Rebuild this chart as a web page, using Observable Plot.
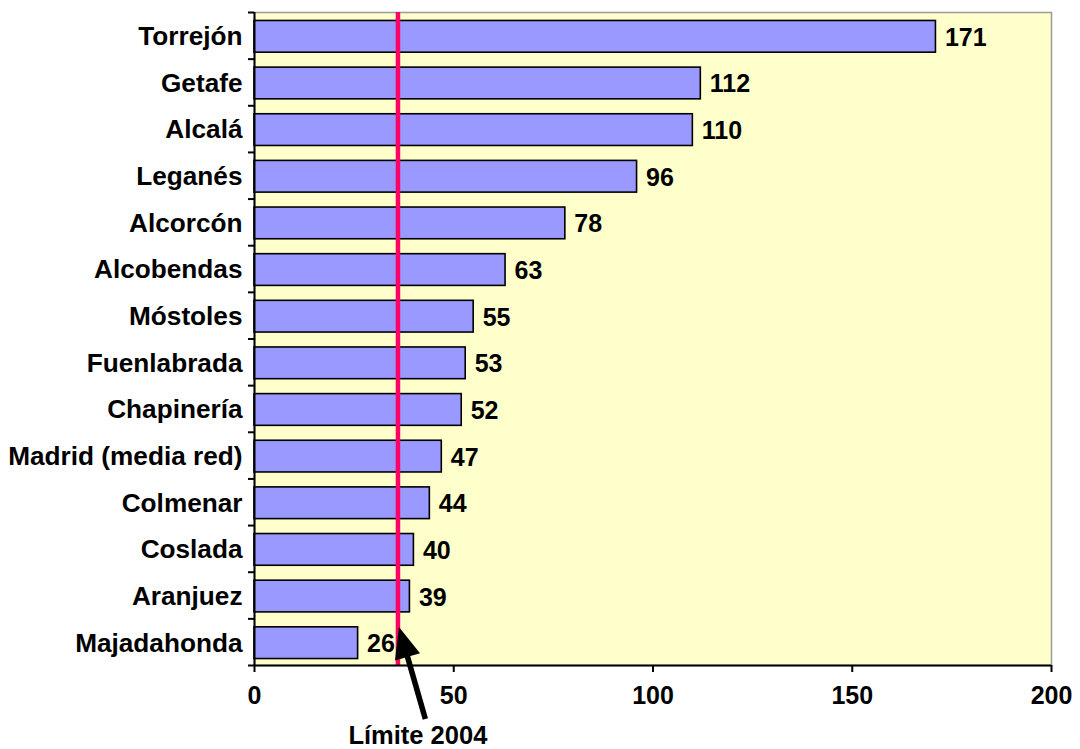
<!DOCTYPE html>
<html>
<head>
<meta charset="utf-8">
<script src="https://cdn.jsdelivr.net/npm/d3@7"></script>
<script src="https://cdn.jsdelivr.net/npm/@observablehq/plot@0.6"></script>
<style>
  html, body { margin: 0; padding: 0; background: #fff; }
  #chart svg { display: block; font-family: "Liberation Sans", Arial, sans-serif; font-weight: bold; }
</style>
</head>
<body>
<div id="chart"></div>
<script>
// Stations and number of days over the PM10 daily limit
const stations = [
  "Torrejón", "Getafe", "Alcalá", "Leganés", "Alcorcón", "Alcobendas", "Móstoles",
  "Fuenlabrada", "Chapinería", "Madrid (media red)", "Colmenar", "Coslada", "Aranjuez", "Majadahonda"
];
const days = [171, 112, 110, 96, 78, 63, 55, 53, 52, 47, 44, 40, 39, 26];
const xTicks = [0, 50, 100, 150, 200];
const limitValue = 36;
const limitLabel = "Límite 2004";

const data = stations.map((s, i) => ({station: s, days: days[i]}));

const W = 1080, H = 749;
const mL = 254, mR = 29, mT = 12, mB = 84;
const step = (H - mT - mB) / stations.length;
const pxPerUnit = (W - mL - mR) / 200;

// band boundaries for the category tick marks
const bounds = stations.map(s => ({station: s, off: -step / 2}))
  .concat([{station: stations[stations.length - 1], off: step / 2}]);

const plot = Plot.plot({
  width: W,
  height: H,
  marginLeft: mL,
  marginRight: mR,
  marginTop: mT,
  marginBottom: mB,
  style: {fontFamily: "'Liberation Sans', Arial, sans-serif", fontWeight: "bold", background: "#fff"},
  x: {domain: [0, 200], ticks: xTicks, label: null},
  y: {domain: stations, paddingInner: 0.32, paddingOuter: 0.16, round: false, label: null},
  marks: [
    Plot.frame({fill: "#FFFFCC", stroke: "#9a9a9a", strokeWidth: 1.5}),
    Plot.barX(data, {x: "days", y: "station", dy: 1, fill: "#9999FF", stroke: "#000", strokeWidth: 1.6}),
    Plot.text(data, {x: "days", y: "station", text: d => String(d.days), textAnchor: "start", dx: 9, dy: 2, fontSize: 25, fontWeight: "bold", fill: "#000"}),
    Plot.ruleX([limitValue], {stroke: "#FF0066", strokeWidth: 4.5}),
    // axis lines
    Plot.ruleX([0], {stroke: "#000", strokeWidth: 2}),
    Plot.ruleY([0], {y: () => stations[stations.length - 1], dy: step / 2, x1: 0, x2: 200, stroke: "#000", strokeWidth: 2}),
    // category tick marks at band boundaries
    ...bounds.map(b => Plot.ruleY([b.station], {x1: -6 / pxPerUnit, x2: 0, dy: b.off, stroke: "#000", strokeWidth: 2})),
    Plot.axisY({tickSize: 0, tickPadding: 12, dy: 1, fontSize: 26.2, fontWeight: "bold", fill: "#000"}),
    Plot.axisX({ticks: xTicks, tickSize: 7, tickPadding: 14, fontSize: 25, fontWeight: "bold", stroke: "#000", strokeWidth: 2, fill: "#000"}),
    Plot.text([limitLabel], {x: 41, frameAnchor: "bottom", lineAnchor: "middle", dy: 70, text: d => d, fontSize: 25.5, fontWeight: "bold", fill: "#000"})
  ]
});

document.getElementById("chart").appendChild(plot);

// annotation arrow pointing at the limit line
const xs = plot.scale("x");
const svg = d3.select(plot);
const tip = [xs.apply(limitValue) + 1.5, 627];
const tail = [xs.apply(43), 719];
const dxv = tip[0] - tail[0], dyv = tip[1] - tail[1];
const len = Math.hypot(dxv, dyv);
const ux = dxv / len, uy = dyv / len;
const headLen = 31, headHalf = 13;
const base = [tip[0] - ux * headLen, tip[1] - uy * headLen];
svg.append("line")
  .attr("x1", tail[0]).attr("y1", tail[1])
  .attr("x2", base[0] + ux * 2).attr("y2", base[1] + uy * 2)
  .attr("stroke", "#000").attr("stroke-width", 5.5);
svg.append("polygon")
  .attr("points", [
    tip,
    [base[0] - uy * headHalf, base[1] + ux * headHalf],
    [base[0] + uy * headHalf, base[1] - ux * headHalf]
  ].map(p => p.join(",")).join(" "))
  .attr("fill", "#000");
</script>
</body>
</html>
